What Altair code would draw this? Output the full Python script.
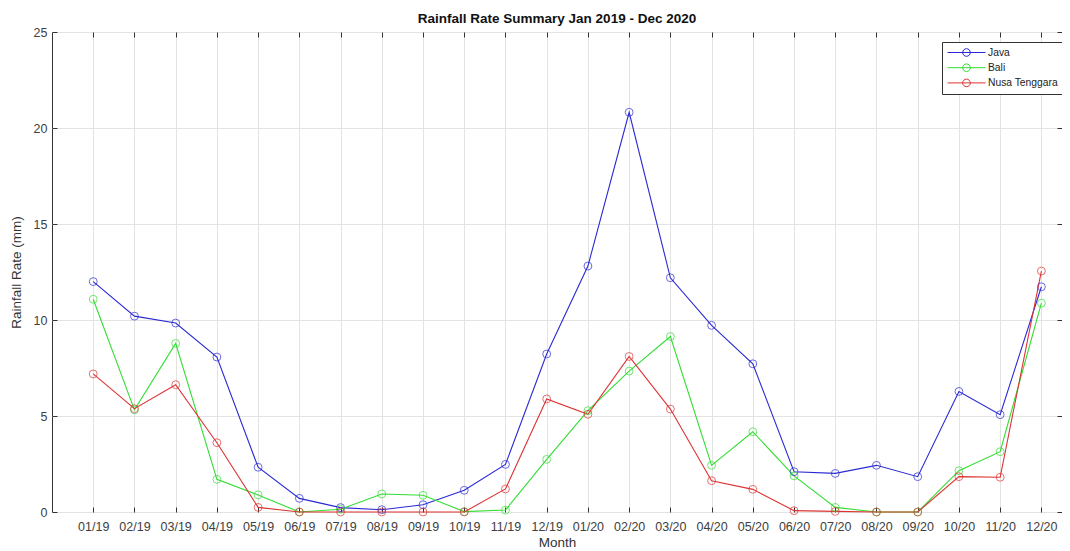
import altair as alt
import pandas as pd

months = ["01/19", "02/19", "03/19", "04/19", "05/19", "06/19", "07/19", "08/19",
          "09/19", "10/19", "11/19", "12/19", "01/20", "02/20", "03/20", "04/20",
          "05/20", "06/20", "07/20", "08/20", "09/20", "10/20", "11/20", "12/20"]
java = [12.0, 10.2, 9.84, 8.07, 2.33, 0.71, 0.23, 0.12, 0.38, 1.13, 2.48, 8.23,
        12.81, 20.82, 12.2, 9.72, 7.72, 2.10, 2.01, 2.43, 1.84, 6.28, 5.07, 11.73]
bali = [11.08, 5.32, 8.78, 1.70, 0.89, 0.0, 0.14, 0.94, 0.87, 0.02, 0.10, 2.74,
        5.28, 7.34, 9.14, 2.43, 4.18, 1.88, 0.24, 0.0, 0.0, 2.15, 3.14, 10.88]
nusa = [7.19, 5.38, 6.63, 3.61, 0.24, 0.0, 0.0, 0.0, 0.0, 0.0, 1.20, 5.89,
        5.09, 8.10, 5.36, 1.63, 1.18, 0.07, 0.03, 0.0, 0.0, 1.84, 1.81, 12.55]
regions = ["Java", "Bali", "Nusa Tenggara"]
colors = ["#2a2ad4", "#33dd33", "#dd3333"]
y_ticks = [0, 5, 10, 15, 20, 25]

rows = []
for name, series in zip(regions, [java, bali, nusa]):
    for i, (m, v) in enumerate(zip(months, series)):
        rows.append({"idx": i + 1, "month": m, "region": name, "value": v})
df = pd.DataFrame(rows)

FONT = "Liberation Sans"
label_expr = "[" + ",".join("'%s'" % m for m in months) + "][datum.value - 1]"
xscale = alt.Scale(domain=[0, 24.5], nice=False, zero=False)
yscale = alt.Scale(domain=[0, 25], nice=False)
cscale = alt.Scale(domain=regions, range=colors)

# unit = 5px (symbolSize 100 -> 10px box); line 38px wide, circle radius ~3.8px
legend_symbol = "M-3.8,0H3.8M-0.76,0A0.76,0.76,0,1,1,0.76,0A0.76,0.76,0,1,1,-0.76,0"

lines = alt.Chart(df).mark_line(strokeWidth=1.1).encode(
    x=alt.X("idx:Q", scale=xscale,
            axis=alt.Axis(values=list(range(1, 25)), labelExpr=label_expr,
                          title="Month", titleFont=FONT, titleFontSize=13.5,
                          titleFontWeight="normal", titleColor="#333333",
                          titlePadding=3,
                          labelFont=FONT, labelFontSize=12.5, labelColor="#404040",
                          labelPadding=8, tickSize=5, offset=-5, domain=False,
                          tickColor="#333333", grid=True, gridColor="#e3e3e3",
                          labelFlush=False)),
    y=alt.Y("value:Q", scale=yscale,
            axis=alt.Axis(values=y_ticks, title="Rainfall Rate (mm)",
                          titleFont=FONT, titleFontSize=13.5, titleFontWeight="normal",
                          titleColor="#333333", titlePadding=10,
                          labelFont=FONT, labelFontSize=12.5, labelColor="#404040",
                          labelPadding=5, tickSize=5, offset=-5, domain=False,
                          tickColor="#333333", grid=True, gridColor="#e3e3e3")),
    color=alt.Color("region:N", scale=cscale, sort=regions,
                    legend=alt.Legend(title=None, orient="none", legendX=890, legendY=10,
                                      symbolType=legend_symbol, symbolSize=100,
                                      symbolStrokeWidth=1, symbolFillColor="transparent",
                                      symbolOffset=14,
                                      labelFont=FONT, labelFontSize=10.3,
                                      labelColor="#222222", labelOffset=16,
                                      rowPadding=2.2, padding=5,
                                      strokeColor="#333333", fillColor="white")),
)

points = alt.Chart(df).mark_point(shape="circle", filled=False, size=62, strokeWidth=1).encode(
    x=alt.X("idx:Q", scale=xscale,
            axis=alt.Axis(orient="top", values=list(range(1, 25)), labels=False,
                          title=None, tickSize=5, offset=-5, domain=False,
                          tickColor="#333333", grid=False)),
    y=alt.Y("value:Q", scale=yscale,
            axis=alt.Axis(orient="right", values=y_ticks, labels=False, title=None,
                          tickSize=5, offset=-5, domain=False,
                          tickColor="#333333", grid=False)),
    color=alt.Color("region:N", scale=cscale, sort=regions, legend=None),
)

chart = alt.layer(lines, points).resolve_axis(
    x="independent", y="independent"
).resolve_legend(color="independent").properties(
    width=1010, height=480,
    title=alt.TitleParams("Rainfall Rate Summary Jan 2019 - Dec 2020", font=FONT,
                          fontSize=13.5, fontWeight="bold", color="#111111",
                          anchor="middle", offset=1),
    autosize=alt.AutoSizeParams(type="none"),
    padding={"left": 44, "top": 24, "right": 0, "bottom": 42},
).configure_view(stroke="#333333", strokeWidth=1)

chart.save("out.html", embed_options={"renderer": "svg", "actions": False})
